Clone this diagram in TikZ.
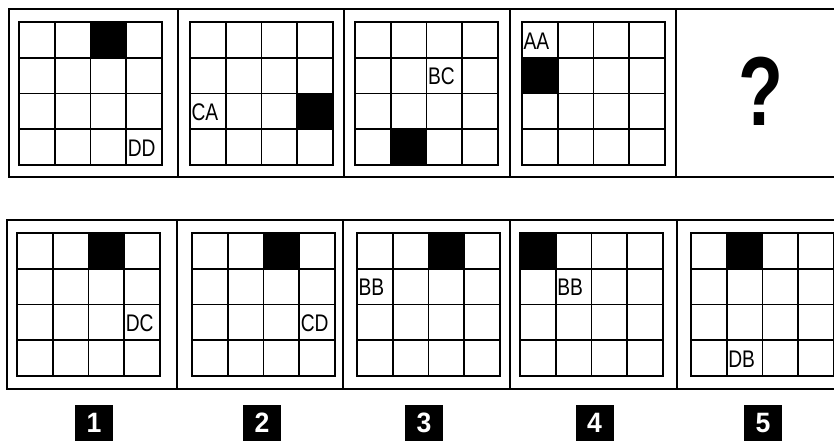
\documentclass[tikz,border=0pt]{standalone}
\usepackage{fontspec}
\setmainfont{Liberation Sans}
\newcommand\cs{35.75}
\newcommand\mygrid[2]{%
  \foreach \i in {1,2,3}{%
    \draw[gridline] (#1+\i*\cs,#2) -- (#1+\i*\cs,#2+4*\cs);
    \draw[gridline] (#1,#2+\i*\cs) -- (#1+4*\cs,#2+\i*\cs);
  }
  \draw[gridline] (#1,#2) rectangle (#1+4*\cs,#2+4*\cs);
}
\newcommand\blk[4]{\fill[black] (#1+#3*\cs-\cs,#2+#4*\cs-\cs) rectangle ++(\cs,\cs);}
\newcommand\ctext[6]{\node[celltext] (#6) at (#1+#3*\cs-\cs+1.4,#2+#4*\cs-0.5*\cs+1) {\scalebox{0.8}[1]{#5}};}
\newcommand\numlab[3]{\fill[black] (#1-19,405) rectangle (#1+19,441);
  \node[numtext] (#3) at (#1,423) {\scalebox{0.95}[1]{#2}};}
\begin{document}
\begin{tikzpicture}[x=1pt,y=-1pt,
  frame/.style={line width=2.6pt,line cap=rect},
  gridline/.style={line width=1.7pt},
  celltext/.style={font=\fontsize{24}{24}\selectfont,anchor=west,inner sep=0pt},
  numtext/.style={text=white,inner sep=0pt,font=\bfseries\fontsize{28}{28}\selectfont}]
\useasboundingbox (0,0) rectangle (834,441);
\clip (0,0) rectangle (834,441);
% top row frame
\draw[frame] (9,9) rectangle (860,177);
\foreach \x in {178,344,510,676} \draw[frame] (\x,9) -- (\x,177);
% bottom row frame
\draw[frame] (7,220) rectangle (860,389);
\foreach \x in {177,343,510,677} \draw[frame] (\x,220) -- (\x,389);
% top panels
\blk{19}{22}{3}{1}\mygrid{19}{22}\ctext{19}{22}{4}{4}{DD}{t1}
\blk{190}{22}{4}{3}\mygrid{190}{22}\ctext{190}{22}{1}{3}{CA}{t2}
\blk{355}{22}{2}{4}\mygrid{355}{22}\ctext{355}{22}{3}{2}{BC}{t3}
\blk{522}{22}{1}{2}\mygrid{522}{22}\ctext{522}{22}{1}{1}{AA}{t4}
\node (q) at (761,91) {\scalebox{0.75}[1]{\bfseries\fontsize{98}{98}\selectfont ?}};
% bottom panels
\blk{17}{233}{3}{1}\mygrid{17}{233}\ctext{17}{233}{4}{3}{DC}{b1}
\blk{192}{233}{3}{1}\mygrid{192}{233}\ctext{192}{233}{4}{3}{CD}{b2}
\blk{357}{233}{3}{1}\mygrid{357}{233}\ctext{357}{233}{1}{2}{BB}{b3}
\blk{520}{233}{1}{1}\mygrid{520}{233}\ctext{520}{233}{2}{2}{BB}{b4}
\blk{691}{233}{2}{1}\mygrid{691}{233}\ctext{691}{233}{2}{4}{DB}{b5}
% labels
\numlab{94}{1}{n1}
\numlab{262}{2}{n2}
\numlab{424}{3}{n3}
\numlab{594.5}{4}{n4}
\numlab{763}{5}{n5}
\end{tikzpicture}
\end{document}
